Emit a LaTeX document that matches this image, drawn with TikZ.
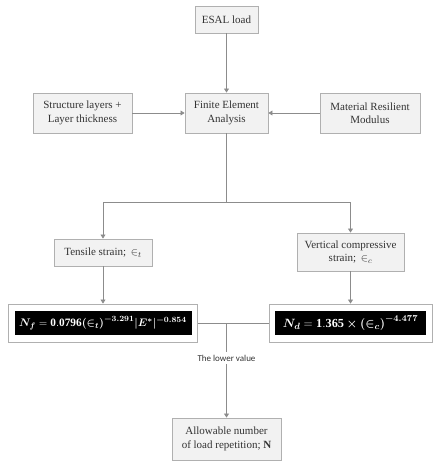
\documentclass[tikz,border=0pt]{standalone}
\usepackage{amsmath}
\usepackage{bm}
\usepackage{fontspec}
\setmainfont{Liberation Serif}
\newfontfamily\lowfont{Carlito}
\usetikzlibrary{arrows.meta}
\definecolor{boxfill}{HTML}{F2F2F2}
\definecolor{boxline}{HTML}{B0B0B0}
\definecolor{arrline}{HTML}{8C8C8C}
\definecolor{txt}{HTML}{333333}
\newcommand\formulaL{$\bm{N_f} = \mathbf{0.0796}\bm{(\in_t)^{-3.291}\lvert E^{*}\rvert^{-0.854}}$}
\newcommand\formulaR{$\bm{N_d} = \mathbf{1.365}\bm{\times(\in_c)^{-4.477}}$}
\tikzset{
  box/.style={draw=boxline, line width=0.9pt, fill=boxfill, text=txt, align=center,
    font=\fontsize{11}{13.5}\selectfont, inner sep=0pt},
  fbox/.style={draw=boxline, line width=0.9pt, fill=white, inner sep=0pt},
  blk/.style={fill=black, text=white, inner sep=0pt},
  conn/.style={draw=arrline, line width=0.8pt},
  arr/.style={conn, -{Triangle[width=5pt,length=4pt]}},
}
\begin{document}
\begin{tikzpicture}[x=1pt,y=-1pt]
\useasboundingbox (0,0) rectangle (446,470);
\node[box, minimum width=63, minimum height=27] (esal) at (226.5,19.5) {ESAL load};
\node[box, minimum width=99, minimum height=40] (struct) at (82.5,113) {Structure layers +\\Layer thickness};
\node[box, minimum width=83, minimum height=40] (fea) at (226.5,113) {Finite Element\\Analysis};
\node[box, minimum width=100, minimum height=40] (mat) at (370,113) {Material Resilient\\Modulus};
\node[box, minimum width=98, minimum height=27] (tens) at (103,252.5) {Tensile strain;\, $\in_{t}$};
\node[box, minimum width=107, minimum height=38] (vert) at (350.5,252) {Vertical compressive\\strain;\, $\in_{c}$};
\node[fbox, minimum width=189, minimum height=38] (fl) at (103,323) {};
\node[blk, minimum width=177, minimum height=24, font=\fontsize{11.3}{13}\selectfont] (flt) at (103,323) {\formulaL};
\node[fbox, minimum width=163, minimum height=38] (fr) at (350.5,323) {};
\node[blk, minimum width=151, minimum height=24, font=\fontsize{12.3}{14}\selectfont] (frt) at (350.5,323) {\formulaR};
\node[box, minimum width=109, minimum height=42] (allow) at (226.5,439) {Allowable number\\of load repetition; \textbf{N}};
\node[text=txt, font=\lowfont\fontsize{9}{10}\selectfont, inner sep=2.5pt] (low) at (226.5,358) {The lower value};
\coordinate (split) at (226.5,202);
\coordinate (mid) at (226.5,323);
\draw[arr] (esal.south) -- (fea.north);
\draw[arr] (struct.east) -- (fea.west);
\draw[arr] (mat.west) -- (fea.east);
\draw[conn] (fea.south) -- (split);
\draw[arr] (split) -| (tens.north);
\draw[arr] (split) -| (vert.north);
\draw[arr] (tens.south) -- (fl.north);
\draw[arr] (vert.south) -- (fr.north);
\draw[conn] (fl.east) -- (fr.west);
\draw[conn] (mid) -- (low.north);
\draw[arr] (low.south) -- (allow.north);
\end{tikzpicture}
\end{document}
